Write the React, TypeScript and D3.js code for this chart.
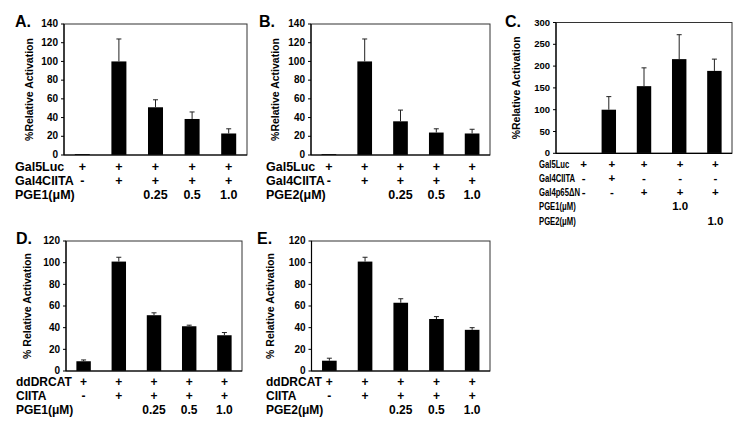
import React from "react";
import * as d3 from "d3";

const categories = ["c1", "c2", "c3", "c4", "c5"];

const valuesA = [1, 100, 51, 38.5, 23];
const errorsA = [0, 24, 8, 7.5, 5];
const valuesB = [1, 100, 36, 24, 23];
const errorsB = [0, 24, 12, 4, 4.5];
const valuesC = [0, 100, 154, 216, 189];
const errorsC = [0, 30, 42, 56, 27];
const valuesD = [9, 101, 51.5, 41.3, 33];
const errorsD = [1.2, 4, 2.2, 1, 2.5];
const valuesE = [9.5, 101, 63, 48, 38];
const errorsE = [2.3, 4, 3.7, 2.2, 2];

const rowsA = ["Gal5Luc", "Gal4CIITA", "PGE1(\u03bcM)"];
const cellsA = [
  ["+", "+", "+", "+", "+"],
  ["-", "+", "+", "+", "+"],
  ["", "", "0.25", "0.5", "1.0"],
];
const rowsB = ["Gal5Luc", "Gal4CIITA", "PGE2(\u03bcM)"];
const cellsB = cellsA;
const rowsC = ["Gal5Luc", "Gal4CIITA", "Gal4p65\u0394N", "PGE1(\u03bcM)", "PGE2(\u03bcM)"];
const cellsC = [
  ["+", "+", "+", "+", "+"],
  ["-", "+", "-", "-", "-"],
  ["-", "-", "+", "+", "+"],
  ["", "", "", "1.0", ""],
  ["", "", "", "", "1.0"],
];
const rowsD = ["ddDRCAT", "CIITA", "PGE1(\u03bcM)"];
const rowsE = ["ddDRCAT", "CIITA", "PGE2(\u03bcM)"];
const cellsDE = cellsA;

const ticksA = [0, 20, 40, 60, 80, 100, 120, 140];
const ticksC = [0, 50, 100, 150, 200, 250, 300];
const ticksD = [0, 20, 40, 60, 80, 100, 120];

const FONT = "'Liberation Sans', Arial, Helvetica, sans-serif";

type PanelProps = {
  letter: string;
  letterX: number;
  letterY: number;
  x0: number;
  x1: number;
  y0: number;
  y1: number;
  ticks: number[];
  values: number[];
  errors: number[];
  yLabel: string;
  yLabelX: number;
  rows: string[];
  cells: string[][];
  rowX: number;
  rowY0: number;
  rowStep: number;
  rowFont: number;
  rowScale?: number;
  colShift?: number[];
  tickFont?: number;
};

function Panel(p: PanelProps) {
  const x = d3.scaleBand<string>().domain(categories).range([p.x0, p.x1]).paddingInner(0.59).paddingOuter(0.295);
  const y = d3.scaleLinear().domain([0, p.ticks[p.ticks.length - 1]]).range([p.y1, p.y0]);
  const bw = x.bandwidth();
  const cx = (c: string) => (x(c) as number) + bw / 2;
  const shift = p.colShift || [0, 0, 0, 0, 0];
  const tf = p.tickFont || 10;
  return (
    <g>
      <text x={p.letterX} y={p.letterY} fontSize={16} fontWeight="bold" fontFamily={FONT}>{p.letter}</text>
      <text
        transform={`translate(${p.yLabelX},${(p.y0 + p.y1) / 2}) rotate(-90)`}
        textAnchor="middle"
        dominantBaseline="central"
        fontSize={10.5}
        fontWeight="bold"
        fontFamily={FONT}
      >{p.yLabel}</text>
      {categories.map((c, i) => (
        <g key={c}>
          {p.values[i] > 0 && (
            <rect x={x(c)} y={y(p.values[i])} width={bw} height={y(0) - y(p.values[i])} fill="#000" />
          )}
          {p.errors[i] > 0 && (
            <g stroke="#222" strokeWidth={1}>
              <line x1={cx(c)} x2={cx(c)} y1={y(p.values[i])} y2={y(p.values[i] + p.errors[i])} />
              <line x1={cx(c) - 2.5} x2={cx(c) + 2.5} y1={y(p.values[i] + p.errors[i])} y2={y(p.values[i] + p.errors[i])} />
            </g>
          )}
        </g>
      ))}
      <rect x={p.x0} y={p.y0} width={p.x1 - p.x0} height={p.y1 - p.y0} fill="none" stroke="#333" strokeWidth={1} />
      <line x1={p.x0} x2={p.x0} y1={p.y0} y2={p.y1} stroke="#000" strokeWidth={1.2} />
      <line x1={p.x0} x2={p.x1} y1={p.y1} y2={p.y1} stroke="#000" strokeWidth={1.2} />
      {p.ticks.map((t) => (
        <g key={t}>
          <line x1={p.x0 - 3} x2={p.x0} y1={y(t)} y2={y(t)} stroke="#000" />
          <text x={p.x0 - 6} y={y(t)} dy="0.32em" textAnchor="end" fontSize={tf} fontWeight="bold" fontFamily={FONT}>{t}</text>
        </g>
      ))}
      {p.rows.map((r, ri) => (
        <g key={r + ri}>
          <g transform={`translate(${p.rowX},${p.rowY0 + ri * p.rowStep}) scale(${p.rowScale || 1},1)`}>
            <text x={0} y={0} fontSize={p.rowFont} fontWeight="bold" fontFamily={FONT}>{r}</text>
          </g>
          {categories.map((c, ci) => (
            <text key={c} x={cx(c) + shift[ci]} y={p.rowY0 + ri * p.rowStep} textAnchor="middle" fontSize={p.rowFont} fontWeight="bold" fontFamily={FONT}>{p.cells[ri][ci]}</text>
          ))}
        </g>
      ))}
    </g>
  );
}

export default function App() {
  return (
    <svg width={749} height={427} style={{ position: "absolute", left: 0, top: 0, background: "#fff" }}>
      <rect width={749} height={427} fill="#fff" />
      <Panel letter="A." letterX={15} letterY={27} x0={64} x1={247} y0={24} y1={155} ticks={ticksA}
        values={valuesA} errors={errorsA} yLabel="%Relative Activation" yLabelX={29}
        rows={rowsA} cells={cellsA} rowX={15} rowY0={170.5} rowStep={14} rowFont={12.5} />
      <Panel letter="B." letterX={259} letterY={27} x0={311} x1={490} y0={24} y1={155} ticks={ticksA}
        values={valuesB} errors={errorsB} yLabel="%Relative Activation" yLabelX={275}
        rows={rowsB} cells={cellsB} rowX={266} rowY0={170.5} rowStep={14} rowFont={12.5} />
      <Panel letter="C." letterX={505} letterY={27} x0={556} x1={732} y0={22.5} y1={153.3} ticks={ticksC}
        values={valuesC} errors={errorsC} yLabel="%Relative Activation" yLabelX={516}
        rows={rowsC} cells={cellsC} rowX={539} rowY0={167.5} rowStep={14.3} rowFont={11.5}
        rowScale={0.67} colShift={[10, 3, 0, 1, 1]} tickFont={9.5} />
      <Panel letter="D." letterX={16} letterY={244} x0={66} x1={242} y0={241} y1={371} ticks={ticksD}
        values={valuesD} errors={errorsD} yLabel="% Relative Activation" yLabelX={27}
        rows={rowsD} cells={cellsDE} rowX={16} rowY0={386} rowStep={14} rowFont={12} />
      <Panel letter="E." letterX={257} letterY={244} x0={311.5} x1={490} y0={241} y1={371} ticks={ticksD}
        values={valuesE} errors={errorsE} yLabel="% Relative Activation" yLabelX={270}
        rows={rowsE} cells={cellsDE} rowX={266} rowY0={386} rowStep={14} rowFont={12} />
    </svg>
  );
}
